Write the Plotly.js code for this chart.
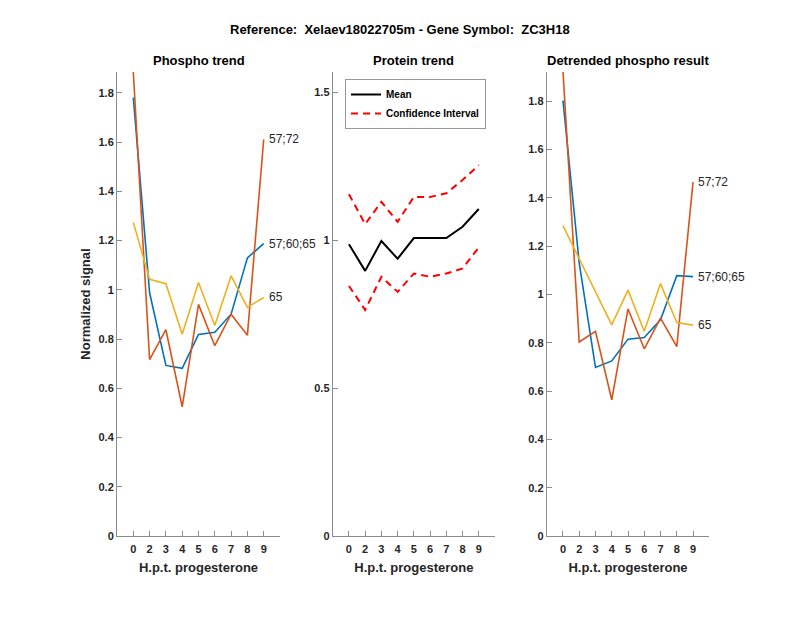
<!DOCTYPE html>
<html>
<head>
<meta charset="utf-8">
<script src="https://cdn.plot.ly/plotly-3.0.1.min.js"></script>
<style>html,body{margin:0;padding:0;background:#fff;}#chart{width:800px;height:618px;}</style>
</head>
<body>
<div id="chart"></div>
<script>
// ---- data ----
const timepoints = ['0','2','3','4','5','6','7','8','9'];
const siteLabels = ['57;60;65','57;72','65'];

const phospho_57_60_65 = [1.781, 0.988, 0.693, 0.681, 0.819, 0.828, 0.901, 1.130, 1.188];
const phospho_57_72    = [1.885, 0.717, 0.838, 0.525, 0.941, 0.773, 0.901, 0.816, 1.611];
const phospho_65       = [1.274, 1.043, 1.025, 0.820, 1.030, 0.855, 1.057, 0.929, 0.969];

const proteinMean  = [0.986, 0.896, 0.997, 0.937, 1.007, 1.007, 1.007, 1.045, 1.105];
const proteinUpper = [1.155, 1.054, 1.129, 1.062, 1.146, 1.146, 1.158, 1.203, 1.253];
const proteinLower = [0.845, 0.764, 0.876, 0.825, 0.887, 0.876, 0.887, 0.904, 0.975];

const detr_57_60_65 = [1.803, 1.130, 0.698, 0.725, 0.815, 0.822, 0.895, 1.078, 1.074];
const detr_57_72    = [1.925, 0.803, 0.847, 0.564, 0.940, 0.775, 0.902, 0.784, 1.465];
const detr_65       = [1.285, 1.150, 1.012, 0.874, 1.018, 0.848, 1.045, 0.884, 0.873];

// ---- styles ----
const C_BLUE = '#0072BD', C_RED = '#D95319', C_YEL = '#EDB120';
const FONT = 'Liberation Sans, Arial, Helvetica, sans-serif';
const AXC = '#8c8c8c';
const TXT = '#262626';

function line(x, y, color, xa, ya, extra) {
  return Object.assign({x: x, y: y, type: 'scatter', mode: 'lines', xaxis: xa, yaxis: ya,
    line: {color: color, width: 1.6}, showlegend: false, hoverinfo: 'skip'}, extra || {});
}

const traces = [
  line(timepoints, phospho_57_60_65, C_BLUE, 'x', 'y'),
  line(timepoints, phospho_57_72, C_RED, 'x', 'y'),
  line(timepoints, phospho_65, C_YEL, 'x', 'y'),
  line(timepoints, proteinMean, '#000000', 'x2', 'y2', {name: 'Mean', showlegend: true, line: {color: '#000', width: 2}}),
  line(timepoints, proteinUpper, '#ff0000', 'x2', 'y2', {name: 'Confidence Interval', showlegend: true, legendgroup: 'ci', line: {color: '#ff0000', width: 2, dash: '7px,5px'}}),
  line(timepoints, proteinLower, '#ff0000', 'x2', 'y2', {name: 'Confidence Interval', showlegend: false, legendgroup: 'ci', line: {color: '#ff0000', width: 2, dash: '7px,5px'}}),
  line(timepoints, detr_57_60_65, C_BLUE, 'x3', 'y3'),
  line(timepoints, detr_57_72, C_RED, 'x3', 'y3'),
  line(timepoints, detr_65, C_YEL, 'x3', 'y3')
];

const yDom = [1 - 536/618, 1 - 72/618];
function xax(dom, anchor) {
  return {domain: dom, anchor: anchor, type: 'category', categoryorder: 'array', categoryarray: timepoints,
    range: [-1, timepoints.length], showline: true, linecolor: AXC, linewidth: 1, ticks: 'inside', ticklen: 5,
    tickcolor: AXC, showgrid: false, zeroline: false, fixedrange: true, ticklabelstandoff: 3,
    tickfont: {family: FONT, size: 11, color: TXT, weight: 'bold'},
    title: {text: 'H.p.t. progesterone', font: {family: FONT, size: 13, color: TXT, weight: 'bold'}, standoff: 8}};
}
function yax(anchor, range, dtick, title) {
  const o = {domain: yDom, anchor: anchor, range: range, dtick: dtick, tick0: 0, showline: true, linecolor: AXC,
    linewidth: 1, ticks: 'inside', ticklen: 5, tickcolor: AXC, showgrid: false, zeroline: false, fixedrange: true,
    tickfont: {family: FONT, size: 11, color: TXT, weight: 'bold'}};
  if (title) o.title = {text: title, font: {family: FONT, size: 13, color: TXT, weight: 'bold'}, standoff: 4};
  return o;
}

const lastIdx = timepoints.length - 1;
function siteAnn(xref, yref, y, text) {
  return {xref: xref, yref: yref, x: lastIdx, y: y, text: text, showarrow: false, xanchor: 'left',
    xshift: 3, yanchor: 'middle', font: {family: FONT, size: 12, color: TXT}};
}
function titleAnn(xc, text) {
  return {xref: 'paper', yref: 'paper', x: xc, y: 1 - 61/618, text: text, showarrow: false,
    xanchor: 'center', yanchor: 'middle', font: {family: FONT, size: 13, color: '#000', weight: 'bold'}};
}

const layout = {
  width: 800, height: 618, margin: {l: 0, r: 0, t: 0, b: 0}, paper_bgcolor: '#fff', plot_bgcolor: '#fff',
  showlegend: true,
  legend: {x: 345/800, y: 1 - 79/618, xanchor: 'left', yanchor: 'top', bgcolor: '#fff', bordercolor: '#999',
    borderwidth: 1, itemwidth: 30, tracegroupgap: 0, font: {family: FONT, size: 10, color: '#000', weight: 'bold'}},
  xaxis: xax([117/800, 280/800], 'y'),
  yaxis: yax('x', [0, 1.885], 0.2, 'Normalized signal'),
  xaxis2: xax([332.7/800, 495/800], 'y2'),
  yaxis2: yax('x2', [0, 1.568], 0.5),
  xaxis3: xax([546.7/800, 709.3/800], 'y3'),
  yaxis3: yax('x3', [0, 1.921], 0.2),
  annotations: [
    {xref: 'paper', yref: 'paper', x: 0.5, y: 1 - 29/618, text: 'Reference:  Xelaev18022705m - Gene Symbol:  ZC3H18',
      showarrow: false, xanchor: 'center', yanchor: 'middle', font: {family: FONT, size: 13, color: '#000', weight: 'bold'}},
    titleAnn(198.5/800, 'Phospho trend'),
    titleAnn(413.8/800, 'Protein trend'),
    titleAnn(628/800, 'Detrended phospho result'),
    siteAnn('x', 'y', phospho_57_72[lastIdx], siteLabels[1]),
    siteAnn('x', 'y', phospho_57_60_65[lastIdx], siteLabels[0]),
    siteAnn('x', 'y', phospho_65[lastIdx], siteLabels[2]),
    siteAnn('x3', 'y3', detr_57_72[lastIdx], siteLabels[1]),
    siteAnn('x3', 'y3', detr_57_60_65[lastIdx], siteLabels[0]),
    siteAnn('x3', 'y3', detr_65[lastIdx], siteLabels[2])
  ]
};

Plotly.newPlot('chart', traces, layout, {staticPlot: true, displayModeBar: false});
</script>
</body>
</html>
